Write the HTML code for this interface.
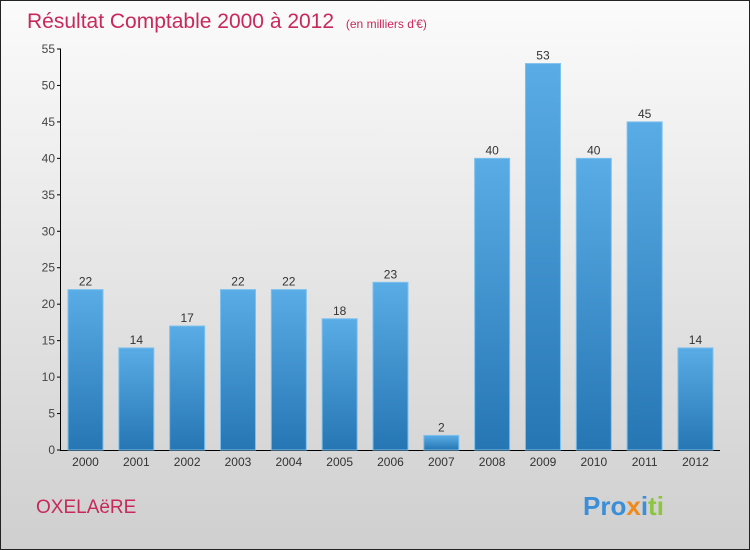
<!DOCTYPE html>
<html><head><meta charset="utf-8"><style>
body{margin:0;width:750px;height:550px;overflow:hidden;font-family:"Liberation Sans",sans-serif}
svg{display:block}
</style></head><body>
<svg id="chart" width="750" height="550">
<defs>
<linearGradient id="bg" x1="0" y1="0" x2="0" y2="1"><stop offset="0" stop-color="#fbfbfb"/><stop offset="1" stop-color="#cfcfcf"/></linearGradient>
<linearGradient id="bar" x1="0" y1="0" x2="0" y2="1"><stop offset="0" stop-color="#5aace6"/><stop offset="1" stop-color="#2576b3"/></linearGradient>
</defs>
<rect x="0.5" y="0.5" width="749" height="549" fill="url(#bg)" stroke="#222"/>
<text x="27" y="28" font-size="21" fill="#c8285a">Résultat Comptable 2000 à 2012 <tspan font-size="12" dx="6">(en milliers d'€)</tspan></text>
<text x="36" y="513" font-size="19" fill="#c8285a">OXELAëRE</text>
<text x="583" y="515" font-size="26" font-weight="bold"><tspan fill="#3b8fd8">Pro</tspan><tspan fill="#f08a1c">x</tspan><tspan fill="#3b8fd8">i</tspan><tspan fill="#8cc63f">ti</tspan></text>
<g id="axes"></g><g id="bars"></g>
</svg>
<script>
const years=["2000","2001","2002","2003","2004","2005","2006","2007","2008","2009","2010","2011","2012"];
const values=[22,14,17,22,22,18,23,2,40,53,40,45,14];
const yTicks=[0,5,10,15,20,25,30,35,40,45,50,55];
const NS="http://www.w3.org/2000/svg";
const y0=450,yTop=49,yMax=55;
function yS(v){return y0-(v/yMax)*(y0-yTop);}
function xS(i){return 68+i*50.83;}
const bw=35;
function mk(t,a,p){const e=document.createElementNS(NS,t);for(const k in a)e.setAttribute(k,a[k]);p.appendChild(e);return e;}
const ax=document.getElementById('axes'),bg=document.getElementById('bars');
const yl=mk('line',{x1:60.5,y1:yTop,x2:60.5,y2:y0,stroke:'#000'},ax);


const xl=mk('line',{x1:60,y1:y0+0.5,x2:720,y2:y0+0.5,stroke:'#000'},ax);


yTicks.forEach(v=>{
 const y=yS(v);
 mk('line',{x1:57,y1:y,x2:61,y2:y,stroke:'#000'},ax);
 const t=mk('text',{x:55,y:y+4,'font-size':12,fill:'#444','text-anchor':'end'},ax);
 t.textContent=v;
 
 
});
years.forEach((yr,i)=>{
 const x=xS(i),v=values[i],y=yS(v);
 const r=mk('rect',{x:x,y:y,width:bw,height:y0-y,fill:'url(#bar)',stroke:'#7cc0ee','stroke-width':1},bg);
 
 
 const l=mk('text',{x:x+bw/2,y:y-4,'font-size':12,fill:'#333','text-anchor':'middle'},bg);
 l.textContent=v;
 
 
 const t=mk('text',{x:x+bw/2,y:466,'font-size':12,fill:'#333','text-anchor':'middle'},bg);
 t.textContent=yr;
 
 
});
</script>
</body></html>
